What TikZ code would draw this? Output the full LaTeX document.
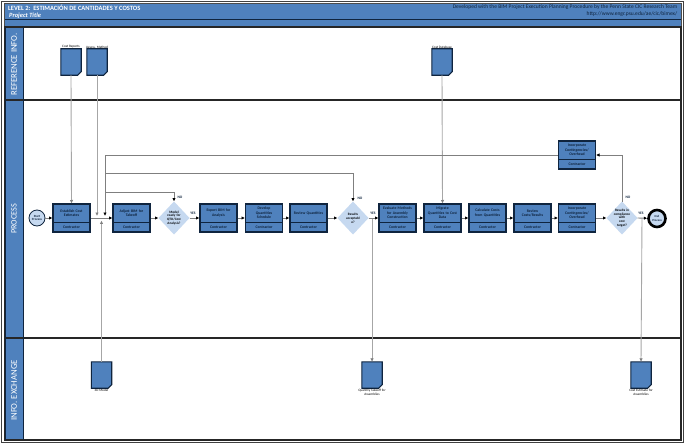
\documentclass[tikz,border=0pt]{standalone}
\usepackage{fontspec}
\setmainfont{Carlito}
\usetikzlibrary{arrows.meta,calc}
\definecolor{bandblue}{HTML}{4F81BD}
\definecolor{navy}{HTML}{0F243E}
\definecolor{diamondblue}{HTML}{C6D9F0}
\definecolor{flowgray}{HTML}{7F7F7F}
\definecolor{refgray}{HTML}{A6A6A6}
\tikzset{
  px/.style={x=1pt,y=-1pt},
  lanebox/.style={draw=black!85,line width=1.2pt},
  lanelabel/.style={rotate=90,text=white,font=\fontsize{8.7}{10}\selectfont,inner sep=0pt},
  procbody/.style={draw=navy,fill=bandblue,line width=1.2pt,minimum width=37pt,minimum height=28pt,inner sep=0pt},
  proctext/.style={align=center,font=\bfseries\fontsize{3.8}{4.4}\selectfont,text=navy,inner sep=0pt},
  docbody/.style={draw=none,minimum width=20pt,minimum height=26pt,inner sep=0pt},
  docshape/.style={draw=navy,fill=bandblue,line width=1.1pt},
  doctext/.style={align=center,font=\fontsize{3.4}{4}\selectfont,text=black,inner sep=0pt},
  decision/.style={fill=diamondblue,draw=none},
  dectext/.style={align=center,font=\bfseries\fontsize{3.4}{3.9}\selectfont,text=black!85!navy,inner sep=0pt},
  flow/.style={draw=flowgray,line width=.9pt,-{Latex[length=3.4pt,width=3.4pt,color=black]}},
  ref/.style={draw=refgray,line width=.9pt,-{Latex[length=3.4pt,width=3.4pt,color=flowgray]}},
  tag/.style={font=\bfseries\fontsize{3.6}{4}\selectfont,text=navy,inner sep=0pt},
}
\newcommand{\procbox}[4]{% name, cx, top, text
  \node[procbody] (#1) at (#2,#3+14) {};
  \draw[navy,line width=.8pt] ($(#1.west)+(0,4)$) -- ($(#1.east)+(0,4)$);
  \node[proctext,text width=34pt] (#1-t) at (#2,#3+9) {#4};
  \node[proctext] (#1-r) at (#2,#3+23.2) {Contractor};
}
\newcommand{\docbox}[3]{% name, cx, top
  \node[docbody] (#1) at (#2,#3+13) {};
  \draw[docshape] (#1.north west) -- (#1.north east) -- ($(#1.south east)+(0,-3.5)$) -- ($(#1.south east)+(-3.5,0)$) -- (#1.south west) -- cycle;
}
\newcommand{\decbox}[3]{% name, cx, text
  \fill[diamondblue] (#2-15.5,218) -- (#2,218-16.5) -- (#2+15.5,218) -- (#2,218+16.5) -- cycle;
  \coordinate (#1-n) at (#2,201.5);
  \coordinate (#1-w) at (#2-15.5,218);
  \coordinate (#1-e) at (#2+15.5,218);
  \node[dectext,text width=22pt] (#1-t) at (#2,218) {#3};
}
\begin{document}
\begin{tikzpicture}[px]
\useasboundingbox (0,0) rectangle (685,444);
\fill[white] (0,0) rectangle (685,444);
\draw[black!75,line width=1pt] (1.5,1.5) rectangle (683,442.5);
% header
\fill[bandblue] (4.5,3.5) rectangle (681,27);
\draw[navy,line width=1pt] (4.5,20) -- (681,20);
\draw[navy,line width=1.2pt] (4.5,27) -- (681,27);
\draw[black!70,line width=.8pt] (4.5,3.5) rectangle (681,27);
\node[anchor=west,text=white,font=\bfseries\fontsize{6.5}{7}\selectfont,inner sep=0pt] (title) at (8,8) {LEVEL 2:\ \ ESTIMACIÓN DE CANTIDADES Y COSTOS};
\node[anchor=west,text=white,font=\bfseries\itshape\fontsize{6.4}{7}\selectfont,inner sep=0pt] (ptitle) at (9,16) {Project Title};
\node[anchor=east,text=navy,font=\fontsize{5.55}{6}\selectfont,inner sep=0pt] (dev) at (677.5,7.5) {Developed with the BIM Project Execution Planning Procedure by the Penn State CIC Research Team};
\node[anchor=east,text=navy,font=\fontsize{5.55}{6}\selectfont,inner sep=0pt] (url) at (677.5,14.3) {http://www.engr.psu.edu/ae/cic/bimex/};
% lanes
\fill[bandblue] (5,27) rectangle (23,440);
\draw[lanebox] (5,27) rectangle (681,100);
\draw[lanebox] (5,100) rectangle (681,338);
\draw[lanebox] (5,338) rectangle (681,440);
\draw[navy,line width=1pt] (5,27) -- (5,440) (23,27) -- (23,440);
\node[lanelabel] (l1) at (14,64.5) {REFERENCE INFO.};
\node[lanelabel,font=\fontsize{8.2}{10}\selectfont] (l2) at (14,219) {PROCESS};
\node[lanelabel] (l3) at (14,390.5) {INFO. EXCHANGE};
% documents
\docbox{costrep}{71}{49}
\docbox{assess}{97}{49}
\docbox{costdb}{442}{49}
\docbox{model}{101.5}{362}
\docbox{qty}{372}{362}
\docbox{estdoc}{641}{362}
\node[doctext,anchor=south] (costrep-l) at (71,48.4) {Cost Reports};
\node[doctext,anchor=south] (assess-l) at (97,48.4) {Assess. Method};
\node[doctext,anchor=south] (costdb-l) at (442,48.4) {Cost Database};
\node[doctext,anchor=north] (model-l) at (101.5,388.6) {3D Model};
\node[doctext,anchor=north] (qty-l) at (372,388.6) {Quantity Takeoff for\\Assemblies};
\node[doctext,anchor=north] (estdoc-l) at (641,388.6) {Cost Estimate for\\Assemblies};
% process nodes
\node[circle,draw=navy,fill=diamondblue,line width=.8pt,minimum size=16pt,inner sep=0pt,align=center,font=\bfseries\fontsize{3.2}{3.7}\selectfont,text=navy] (start) at (37,218) {Start\\Process};
\procbox{establish}{71.5}{204}{Establish Cost\\Estimates}
\procbox{adjust}{131.5}{204}{Adjust BIM for\\Takeoff}
\decbox{ready}{174}{Model\\ready for\\QTO/Cost\\Analysis?}
\procbox{export}{218.5}{204}{Export BIM for\\Analysis}
\procbox{develop}{264}{204}{Develop\\Quantities\\Schedule}
\procbox{reviewq}{308.5}{204}{Review Quantities}
\decbox{accept}{353}{Results\\acceptabl\\e?}
\procbox{evaluate}{397.5}{204}{Evaluate Methods\\for Assembly\\Construction}
\procbox{migrate}{442.5}{204}{Migrate\\Quantities to Cost\\Data}
\procbox{calc}{487.5}{204}{Calculate Costs\\from Quantities}
\procbox{reviewc}{532.5}{204}{Review\\Costs/Results}
\procbox{incorp}{577}{204}{Incorporate\\Contingencies/\\Overhead}
\procbox{incorpup}{577}{141}{Incorporate\\Contingencies/\\Overhead}
\decbox{target}{622}{Results in\\compliance\\with\\cost\\target?}
\node[circle,draw=black,fill=diamondblue,line width=2.6pt,minimum size=17pt,inner sep=0pt,align=center,font=\bfseries\fontsize{3}{3.5}\selectfont,text=navy] (end) at (657,218.5) {End\\Process};
% junction coordinates
\coordinate (assessj) at (97,216);
\coordinate (loopj) at (105,216);
\coordinate (modelj) at (101.5,220.5);
\coordinate (loopa) at (105,155);
\coordinate (loopb) at (105,173);
\coordinate (loopc) at (105,192.5);
\coordinate (qtyj) at (372,218);
\coordinate (estj) at (642,218.5);
\coordinate (targetup) at (622,155);
% reference connectors
\draw[ref] (costrep.south) -- (establish.north);
\draw[ref] (assess.south) -- (assessj);
\draw[ref] (costdb.south) -- (migrate.north);
\draw[ref] (model.north) -- (modelj);
\draw[ref] (qtyj) -- (qty.north);
\draw[ref] (estj) -- (estdoc.north);
% flow connectors
\draw[flow] (start) -- (establish);
\draw[flow] (establish.east) -- (adjust.west);
\draw[flow] (adjust.east) -- (ready-w);
\draw[flow] (ready-e) -- (export.west);
\draw[flow] (export.east) -- (develop.west);
\draw[flow] (develop.east) -- (reviewq.west);
\draw[flow] (reviewq.east) -- (accept-w);
\draw[flow] (accept-e) -- (evaluate.west);
\draw[flow] (evaluate.east) -- (migrate.west);
\draw[flow] (migrate.east) -- (calc.west);
\draw[flow] (calc.east) -- (reviewc.west);
\draw[flow] (reviewc.east) -- (incorp.west);
\draw[flow] (incorp.east) -- (target-w);
\draw[flow] (target-e) -- (end);
\draw[flow] (target-n) -- (targetup) -- (incorpup.east |- targetup);
\draw[flow] (incorpup.west |- loopa) -- (loopa) -- (loopj);
\draw[flow] (loopc) -- (174,192.5) -- (ready-n);
\draw[flow] (loopb) -- (353,173) -- (accept-n);
% labels
\node[tag] (no1) at (180,197) {NO};
\node[tag] (yes1) at (193,213) {YES};
\node[tag] (no2) at (360,198) {NO};
\node[tag] (yes2) at (373,213) {YES};
\node[tag] (no3) at (628,197) {NO};
\node[tag] (yes3) at (641,213) {YES};
\end{tikzpicture}
\end{document}
